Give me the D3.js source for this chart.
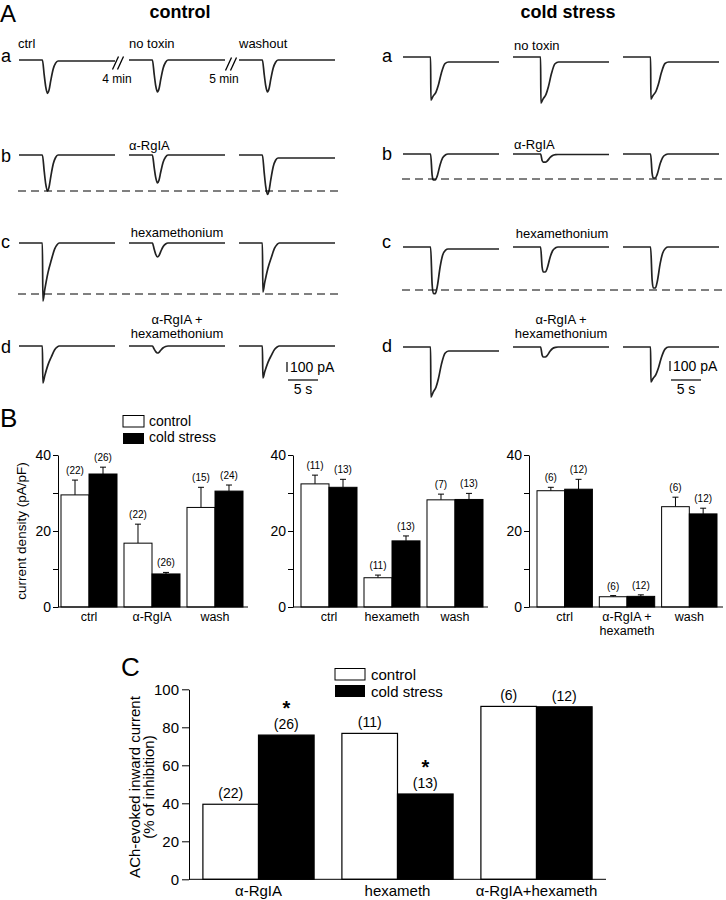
<!DOCTYPE html>
<html><head><meta charset="utf-8">
<script src="https://cdn.jsdelivr.net/npm/d3@7"></script>
<style>
body{margin:0;background:#fff}
svg{display:block}
text{font-family:"Liberation Sans",Arial,Helvetica,sans-serif;fill:#000}
</style>
</head><body>
<svg id="fig" width="726" height="900"></svg>
<script>
// ================= DATA =================
// ---- Panel A: current traces (pA), shape key points (s after onset, fraction of peak) ----
const rowLetters = ["a", "b", "c", "d"];
const ctrlRoundShape = [[0,0],[0.3,0.45],[0.55,0.8],[0.85,1],[1.1,0.9],[1.4,0.6],[1.8,0.25],[2.2,0.07],[2.6,0]];
const ctrlSharpShape = [[0,0],[0.08,1],[0.4,0.8],[0.93,0.51],[1.5,0.29],[2.05,0.1],[2.45,0.03],[2.8,0]];
const coldSharpShape = [[0,0],[0.05,1],[0.4,0.9],[0.9,0.78],[1.3,0.6],[1.8,0.3],[2.4,0.06],[3.0,0]];
const coldRoundShape = [[0,0],[0.25,0.8],[0.45,1],[0.8,1],[1.1,0.85],[1.6,0.4],[2.0,0.15],[2.5,0.03],[2.9,0]];
const ctrlOnset = 3.9;   // s
const coldOnset = 4.6;   // s
const traceDuration = 16; // s
const ctrlTraceShape = [["r","r","r"],["r","r","r"],["s","r","s"],["s","r","s"]];
const ctrlTraceAmp   = [[330,320,320],[360,280,385],[580,140,490],[370,70,320]];
const ctrlTraceDrift = [[-10,0,0],[0,0,-30],[0,0,0],[0,0,0]];
const ctrlDashRef    = [null, 360, 510, null];
const coldTraceShape = [["s","s","s"],["r","r","r"],["r","r","r"],["s","r","s"]];
const coldTraceAmp   = [[430,460,420],[260,80,240],[460,250,410],[500,100,350]];
const coldTraceDrift = [[-50,-50,-50],[0,-5,0],[-20,0,0],[-40,0,0]];
const coldDashRef    = [null, 250, 430, null];
const scaleBarPA = 100;  // pA
const scaleBarS = 5;     // s

// ---- Panel B: current density (pA/pF) ----
const seriesNames = ["control", "cold stress"];
const bCats1 = ["ctrl", "α-RgIA", "wash"];
const bCtrl1 = [29.5, 16.8, 26.2];
const bCtrlErr1 = [3.9, 5.0, 5.3];
const bCold1 = [35.0, 8.7, 30.5];
const bColdErr1 = [1.8, 0.4, 1.6];
const bCtrlN1 = [22, 22, 15];
const bColdN1 = [26, 26, 24];

const bCats2 = ["ctrl", "hexameth", "wash"];
const bCtrl2 = [32.4, 7.7, 28.2];
const bCtrlErr2 = [2.3, 0.7, 1.5];
const bCold2 = [31.5, 17.4, 28.3];
const bColdErr2 = [2.1, 1.3, 1.6];
const bCtrlN2 = [11, 11, 7];
const bColdN2 = [13, 13, 13];

const bCats3 = ["ctrl", "α-RgIA +\nhexameth", "wash"];
const bCtrl3 = [30.6, 2.7, 26.4];
const bCtrlErr3 = [0.9, 0.3, 2.5];
const bCold3 = [31.0, 2.8, 24.5];
const bColdErr3 = [2.6, 0.4, 1.5];
const bCtrlN3 = [6, 6, 6];
const bColdN3 = [12, 12, 12];
const bTicks = [0, 10, 20, 30, 40];

// ---- Panel C: % inhibition ----
const cCats = ["α-RgIA", "hexameth", "α-RgIA+hexameth"];
const cCtrl = [39.5, 76.8, 91.0];
const cCold = [75.9, 44.9, 90.8];
const cCtrlN = [22, 11, 6];
const cColdN = [26, 13, 12];
const cColdSig = [true, true, false];
const cTicks = [0, 20, 40, 60, 80, 100];

// ================= DRAW =================
const svg = d3.select("#fig");
svg.append("rect").attr("width", 726).attr("height", 900).attr("fill", "#fff");

function txt(x, y, s, size, opts = {}) {
  return svg.append("text").attr("x", x).attr("y", y).text(s)
    .attr("font-size", size)
    .attr("text-anchor", opts.anchor || "start")
    .attr("font-weight", opts.bold ? "bold" : "normal");
}

// ---------- Panel A ----------
txt(0, 22, "A", 24);
txt(180, 18, "control", 18, {anchor: "middle", bold: true});
txt(568, 18, "cold stress", 18, {anchor: "middle", bold: true});

const tScale = d3.scaleLinear().domain([0, traceDuration]).range([0, 96]);
const pxPerPA = 0.1;

const panelsA = [
  {starts: [19, 129, 239], base: [60, 155, 243, 346], shapes: ctrlTraceShape, amps: ctrlTraceAmp,
   drift: ctrlTraceDrift, dash: ctrlDashRef, onset: ctrlOnset, round: ctrlRoundShape, sharp: ctrlSharpShape,
   dashX: [18, 342], letterX: 1, letterY: [62, 162, 248, 353]},
  {starts: [403, 513, 623], base: [57, 154, 247, 347], shapes: coldTraceShape, amps: coldTraceAmp,
   drift: coldTraceDrift, dash: coldDashRef, onset: coldOnset, round: coldRoundShape, sharp: coldSharpShape,
   dashX: [402, 726], letterX: 382, letterY: [62, 160, 248, 352]}
];

panelsA.forEach(P => {
  rowLetters.forEach((L, r) => {
    txt(P.letterX, P.letterY[r], L, 18);
    const yRow = d3.scaleLinear().domain([0, -100]).range([P.base[r], P.base[r] + 100 * pxPerPA]);
    P.starts.forEach((sx, k) => {
      const sh = P.shapes[r][k] === "s" ? P.sharp : P.round;
      const end = sh[sh.length - 1][0];
      const amp = P.amps[r][k], dr = P.drift[r][k];
      const pts = [[0, 0], [P.onset, 0]];
      sh.forEach(([dt, f]) => pts.push([P.onset + dt, -amp * f + dr * dt / end]));
      pts.push([traceDuration, dr]);
      const line = d3.line().x(d => sx + tScale(d[0])).y(d => yRow(d[1])).curve(d3.curveMonotoneX);
      svg.append("path").attr("d", line(pts)).attr("fill", "none")
        .attr("stroke", "#222").attr("stroke-width", 1.7).attr("stroke-linejoin", "round");
    });
    if (P.dash[r] != null) {
      const yy = yRow(-P.dash[r]);
      svg.append("line").attr("x1", P.dashX[0]).attr("x2", P.dashX[1]).attr("y1", yy).attr("y2", yy)
        .attr("stroke", "#000").attr("stroke-width", 1).attr("stroke-dasharray", "8,5");
    }
  });
});

// condition labels (control)
txt(18, 48, "ctrl", 13);
txt(129, 48, "no toxin", 13);
txt(239, 48, "washout", 13);
txt(117, 83, "4 min", 12, {anchor: "middle"});
txt(224, 83, "5 min", 12, {anchor: "middle"});
txt(129, 150, "α-RgIA", 13);
txt(177, 237, "hexamethonium", 13, {anchor: "middle"});
txt(177, 324, "α-RgIA +", 13, {anchor: "middle"});
txt(177, 338, "hexamethonium", 13, {anchor: "middle"});
// condition labels (cold stress)
txt(514, 50, "no toxin", 13);
txt(514, 149, "α-RgIA", 13);
txt(562, 238, "hexamethonium", 13, {anchor: "middle"});
txt(561, 324, "α-RgIA +", 13, {anchor: "middle"});
txt(561, 338, "hexamethonium", 13, {anchor: "middle"});

// break marks
[[118, 63], [231, 64]].forEach(([cx, cy]) => {
  [-2.5, 2.5].forEach(o => {
    svg.append("line").attr("x1", cx + o - 3).attr("y1", cy + 6.5).attr("x2", cx + o + 3).attr("y2", cy - 6.5)
      .attr("stroke", "#000").attr("stroke-width", 1.3);
  });
});

// scale bars
[[287, 362, 380], [670, 361, 380]].forEach(([x, yTop, yH]) => {
  svg.append("line").attr("x1", x).attr("x2", x).attr("y1", yTop).attr("y2", yTop + scaleBarPA * pxPerPA)
    .attr("stroke", "#000").attr("stroke-width", 1.2);
  txt(x + 3, yTop + 10, scaleBarPA + " pA", 14);
  svg.append("line").attr("x1", x + 1).attr("x2", x + 1 + tScale(scaleBarS)).attr("y1", yH).attr("y2", yH)
    .attr("stroke", "#000").attr("stroke-width", 1.2);
  txt(x + 1 + tScale(scaleBarS) / 2, yH + 14, scaleBarS + " s", 14, {anchor: "middle"});
});

// ---------- Panel B ----------
txt(0, 427, "B", 26);
svg.append("rect").attr("x", 123).attr("y", 415.5).attr("width", 21).attr("height", 11.5)
  .attr("fill", "#fff").attr("stroke", "#000").attr("stroke-width", 1);
svg.append("rect").attr("x", 123).attr("y", 433).attr("width", 21).attr("height", 11).attr("fill", "#000");
txt(149, 426, seriesNames[0], 14);
txt(149, 442, seriesNames[1], 14);

const yB = d3.scaleLinear().domain([0, 40]).range([607, 455]);
const subplots = [
  {axX: 58, axEnd: 248, r: [61, 243], cats: bCats1, c: bCtrl1, ce: bCtrlErr1, k: bCold1, ke: bColdErr1, cn: bCtrlN1, kn: bColdN1},
  {axX: 293, axEnd: 488, r: [301, 483], cats: bCats2, c: bCtrl2, ce: bCtrlErr2, k: bCold2, ke: bColdErr2, cn: bCtrlN2, kn: bColdN2},
  {axX: 529, axEnd: 723, r: [537, 717], cats: bCats3, c: bCtrl3, ce: bCtrlErr3, k: bCold3, ke: bColdErr3, cn: bCtrlN3, kn: bColdN3}
];

subplots.forEach((S, si) => {
  const g = svg.append("g");
  const x0 = d3.scaleBand().domain(S.cats).range(S.r).paddingInner(0.111).paddingOuter(0);
  const x1 = d3.scaleBand().domain(seriesNames).range([0, x0.bandwidth()]).padding(0);
  const rows = S.cats.map((c, i) => ({cat: c, vals: [
    {s: seriesNames[0], v: S.c[i], e: S.ce[i], n: S.cn[i]},
    {s: seriesNames[1], v: S.k[i], e: S.ke[i], n: S.kn[i]}]}));
  const grp = g.selectAll("g.grp").data(rows).join("g").attr("transform", d => `translate(${x0(d.cat)},0)`);
  const item = grp.selectAll("g.it").data(d => d.vals).join("g");
  // error bars
  item.append("line").attr("x1", d => x1(d.s) + x1.bandwidth() / 2).attr("x2", d => x1(d.s) + x1.bandwidth() / 2)
    .attr("y1", d => yB(d.v)).attr("y2", d => yB(d.v + d.e)).attr("stroke", "#000").attr("stroke-width", 1);
  item.append("line").attr("x1", d => x1(d.s) + x1.bandwidth() / 2 - 3).attr("x2", d => x1(d.s) + x1.bandwidth() / 2 + 3)
    .attr("y1", d => yB(d.v + d.e)).attr("y2", d => yB(d.v + d.e)).attr("stroke", "#000").attr("stroke-width", 1);
  item.append("rect").attr("x", d => x1(d.s)).attr("width", x1.bandwidth())
    .attr("y", d => yB(d.v)).attr("height", d => yB(0) - yB(d.v))
    .attr("fill", d => d.s === seriesNames[0] ? "#fff" : "#000")
    .attr("stroke", "#000").attr("stroke-width", 1);
  item.append("text").attr("x", d => x1(d.s) + x1.bandwidth() / 2).attr("y", d => yB(d.v + d.e) - 6)
    .attr("text-anchor", "middle").attr("font-size", 10).text(d => `(${d.n})`);
  // axes
  const ax = g.append("g").attr("transform", `translate(${S.axX},0)`)
    .call(d3.axisLeft(yB).tickValues(bTicks).tickSize(5).tickSizeOuter(0).tickPadding(2)
      .tickFormat(d => d % 20 === 0 ? d : ""));
  ax.selectAll("text").attr("font-size", 14).attr("font-family", '"Liberation Sans",Arial,sans-serif').attr("fill", "#000");
  ax.selectAll("line,path").attr("stroke", "#000");
  g.append("line").attr("x1", S.axX).attr("x2", S.axEnd).attr("y1", yB(0)).attr("y2", yB(0)).attr("stroke", "#000");
  // category labels (multi-line labels become separate text lines)
  S.cats.forEach(c => {
    c.split("\n").forEach((ln, li) => {
      g.append("text").attr("text-anchor", "middle").attr("font-size", 12.5)
        .attr("x", x0(c) + x0.bandwidth() / 2).attr("y", 621 + li * 14).text(ln);
    });
  });
});
svg.append("text").attr("transform", "translate(26,531) rotate(-90)").attr("text-anchor", "middle")
  .attr("font-size", 13.5).text("current density (pA/pF)");

// ---------- Panel C ----------
txt(121, 676, "C", 26);
svg.append("rect").attr("x", 335).attr("y", 668.5).attr("width", 30).attr("height", 11.5)
  .attr("fill", "#fff").attr("stroke", "#000").attr("stroke-width", 1);
svg.append("rect").attr("x", 335).attr("y", 685).attr("width", 30).attr("height", 12).attr("fill", "#000");
txt(371, 680, seriesNames[0], 15);
txt(371, 697, seriesNames[1], 15);

const yC = d3.scaleLinear().domain([0, 100]).range([879.3, 689.3]);
const xC = d3.scaleBand().domain(cCats).range([189, 606]).paddingInner(0.2).paddingOuter(0.1);
const xC1 = d3.scaleBand().domain(seriesNames).range([0, xC.bandwidth()]).padding(0);
const cRows = cCats.map((c, i) => ({cat: c, vals: [
  {s: seriesNames[0], v: cCtrl[i], n: cCtrlN[i], sig: false},
  {s: seriesNames[1], v: cCold[i], n: cColdN[i], sig: cColdSig[i]}]}));
const cg = svg.append("g");
const cgrp = cg.selectAll("g.grp").data(cRows).join("g").attr("transform", d => `translate(${xC(d.cat)},0)`);
const cit = cgrp.selectAll("g.it").data(d => d.vals).join("g");
cit.append("rect").attr("x", d => xC1(d.s)).attr("width", xC1.bandwidth())
  .attr("y", d => yC(d.v)).attr("height", d => yC(0) - yC(d.v))
  .attr("fill", d => d.s === seriesNames[0] ? "#fff" : "#000")
  .attr("stroke", "#000").attr("stroke-width", 1.2);
cit.append("text").attr("x", d => xC1(d.s) + xC1.bandwidth() / 2).attr("y", d => yC(d.v) - 6)
  .attr("text-anchor", "middle").attr("font-size", 14).text(d => `(${d.n})`);
cit.filter(d => d.sig).append("text").attr("x", d => xC1(d.s) + xC1.bandwidth() / 2).attr("y", d => yC(d.v) - 20)
  .attr("text-anchor", "middle").attr("font-size", 20).attr("font-weight", "bold").text("*");
const axC = cg.append("g").attr("transform", "translate(189,0)")
  .call(d3.axisLeft(yC).tickValues(cTicks).tickSize(7).tickSizeOuter(0).tickPadding(3));
axC.selectAll("text").attr("font-size", 15).attr("font-family", '"Liberation Sans",Arial,sans-serif').attr("fill", "#000");
axC.selectAll("line,path").attr("stroke", "#000");
cg.append("line").attr("x1", 189).attr("x2", 606).attr("y1", yC(0)).attr("y2", yC(0)).attr("stroke", "#000");
cCats.forEach(c => {
  cg.append("text").attr("x", xC(c) + xC.bandwidth() / 2).attr("y", 896).attr("text-anchor", "middle")
    .attr("font-size", 15).text(c);
});
const yl = svg.append("text").attr("transform", "translate(140,787) rotate(-90)").attr("text-anchor", "middle").attr("font-size", 15);
yl.append("tspan").attr("x", 0).attr("dy", 0).text("ACh-evoked inward current");
yl.append("tspan").attr("x", 0).attr("dy", 14).text("(% of inhibition)");
</script>
</body></html>
